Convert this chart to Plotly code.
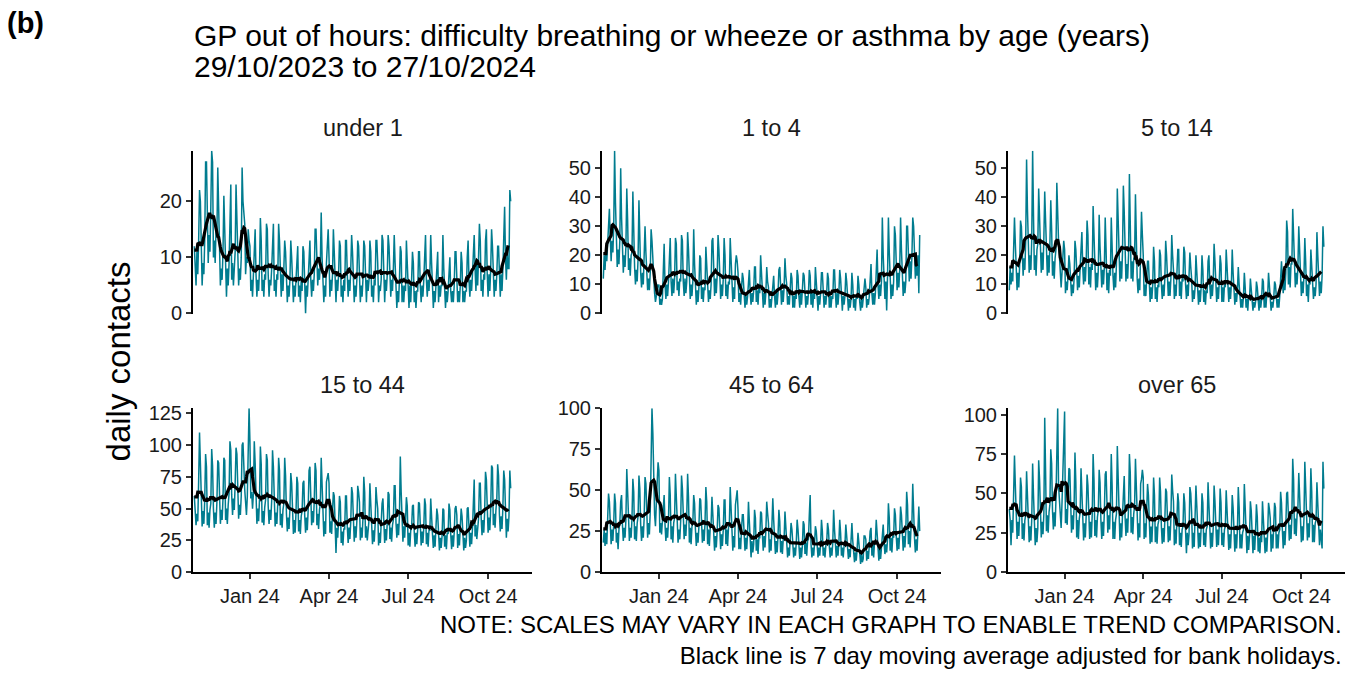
import numpy as np
import pandas as pd
import plotly.graph_objects as go

# ---------------- data ----------------
START_DATE = "2023-10-29"   # Sunday; one value per day to 27/10/2024
PANEL_TITLES = ["under 1", "1 to 4", "5 to 14", "15 to 44", "45 to 64", "over 65"]

# daily contacts, one row per week (Sun..Sat), last row = final Sunday
UNDER_1 = [
    12, 9, 5, 11, 7, 13, 22,
    20, 10, 5, 9, 7, 13, 27,
    27, 15, 9, 14, 11, 19, 29,
    27, 10, 13, 9, 15, 14, 26,
    18, 9, 5, 8, 6, 11, 21,
    15, 7, 3, 8, 5, 9, 18,
    23, 6, 9, 5, 10, 11, 23,
    17, 9, 5, 8, 6, 10, 26,
    20, 18, 16, 7, 10, 9, 15,
    13, 12, 4, 6, 3, 7, 12,
    15, 7, 3, 6, 4, 8, 17,
    13, 4, 6, 3, 7, 6, 16,
    15, 7, 3, 6, 5, 8, 15,
    16, 4, 6, 3, 7, 6, 16,
    13, 6, 3, 7, 4, 8, 13,
    11, 5, 2, 5, 3, 6, 13,
    10, 4, 2, 5, 3, 6, 11,
    12, 3, 5, 2, 6, 4, 12,
    11, 4, 0, 5, 3, 6, 12,
    13, 6, 3, 6, 4, 7, 15,
    15, 9, 5, 8, 6, 9, 18,
    10, 4, 2, 5, 3, 9, 12,
    15, 10, 3, 6, 4, 7, 15,
    11, 6, 2, 6, 4, 7, 13,
    12, 3, 5, 2, 6, 4, 13,
    13, 7, 3, 6, 4, 8, 14,
    11, 5, 2, 5, 3, 6, 13,
    12, 8, 2, 5, 3, 6, 13,
    12, 5, 2, 6, 4, 6, 13,
    11, 3, 5, 2, 6, 5, 13,
    13, 9, 2, 5, 4, 6, 14,
    13, 6, 2, 6, 4, 7, 14,
    12, 5, 3, 6, 4, 8, 14,
    9, 4, 1, 4, 2, 6, 12,
    11, 2, 5, 2, 5, 4, 13,
    9, 4, 1, 5, 2, 6, 11,
    9, 2, 4, 1, 4, 4, 11,
    11, 5, 2, 5, 3, 6, 13,
    14, 6, 3, 6, 4, 7, 14,
    9, 4, 1, 4, 2, 5, 10,
    11, 2, 5, 3, 5, 5, 14,
    8, 3, 1, 4, 2, 4, 9,
    10, 4, 2, 4, 2, 5, 11,
    11, 7, 2, 4, 2, 5, 11,
    9, 2, 4, 2, 4, 4, 10,
    13, 6, 3, 6, 4, 7, 13,
    14, 8, 4, 9, 5, 10, 16,
    13, 4, 6, 3, 7, 6, 13,
    15, 7, 3, 7, 4, 8, 15,
    12, 5, 3, 6, 4, 7, 12,
    12, 6, 3, 7, 4, 8, 12,
    19, 10, 6, 11, 8, 8, 22,
    20,
]

AGE_1_4 = [
    12, 20, 15, 22, 18, 25, 32,
    36, 26, 18, 25, 21, 30, 56,
    38, 24, 16, 22, 17, 25, 50,
    33, 21, 14, 20, 16, 23, 43,
    32, 15, 19, 13, 20, 21, 42,
    26, 16, 10, 15, 11, 19, 39,
    24, 14, 9, 14, 10, 17, 30,
    21, 12, 8, 12, 8, 14, 29,
    25, 17, 14, 7, 4, 6, 10,
    9, 10, 3, 5, 3, 5, 14,
    24, 10, 5, 10, 6, 11, 20,
    26, 11, 6, 12, 7, 12, 26,
    24, 8, 11, 6, 12, 11, 27,
    25, 11, 6, 12, 7, 11, 28,
    22, 10, 5, 10, 6, 11, 29,
    17, 8, 3, 8, 4, 9, 20,
    19, 5, 9, 4, 9, 8, 23,
    17, 9, 4, 8, 5, 10, 25,
    26, 12, 6, 12, 7, 13, 27,
    22, 10, 5, 10, 6, 12, 26,
    20, 6, 10, 5, 11, 10, 26,
    20, 9, 4, 9, 5, 17, 20,
    18, 14, 4, 7, 3, 7, 14,
    12, 5, 2, 6, 3, 6, 12,
    15, 7, 3, 7, 4, 8, 16,
    16, 4, 8, 3, 9, 7, 20,
    14, 7, 2, 7, 3, 7, 16,
    11, 9, 2, 5, 2, 6, 12,
    13, 6, 2, 7, 3, 7, 15,
    16, 8, 3, 8, 4, 9, 19,
    13, 10, 3, 6, 3, 7, 14,
    12, 2, 6, 2, 7, 5, 15,
    13, 6, 2, 7, 3, 8, 14,
    13, 6, 2, 6, 3, 7, 15,
    13, 3, 7, 2, 7, 5, 16,
    12, 6, 1, 6, 3, 7, 14,
    14, 6, 2, 6, 3, 7, 14,
    12, 2, 6, 2, 6, 5, 15,
    15, 7, 2, 7, 3, 7, 15,
    12, 6, 1, 6, 3, 6, 14,
    11, 4, 1, 5, 2, 5, 14,
    10, 2, 5, 1, 6, 5, 13,
    10, 4, 1, 5, 2, 5, 11,
    12, 9, 2, 5, 3, 6, 12,
    17, 7, 3, 7, 3, 7, 14,
    22, 10, 5, 10, 6, 11, 33,
    20, 11, 5, 11, 1, 13, 33,
    21, 10, 5, 10, 6, 11, 30,
    27, 14, 8, 14, 9, 15, 33,
    22, 11, 6, 11, 7, 11, 30,
    30, 17, 11, 18, 12, 19, 33,
    30, 18, 12, 17, 13, 20, 7,
    27,
]

AGE_5_14 = [
    8, 16, 10, 14, 11, 20, 33,
    24, 13, 8, 14, 9, 17, 32,
    30, 20, 13, 19, 15, 25, 53,
    36, 21, 14, 20, 15, 26, 56,
    34, 15, 20, 13, 22, 24, 43,
    34, 21, 14, 21, 15, 26, 42,
    32, 20, 13, 20, 14, 24, 39,
    29, 13, 18, 12, 19, 22, 45,
    33, 25, 20, 14, 9, 14, 20,
    25, 22, 7, 11, 8, 13, 20,
    17, 10, 6, 10, 7, 12, 25,
    22, 13, 8, 13, 9, 16, 24,
    28, 16, 10, 16, 11, 18, 32,
    27, 10, 16, 9, 17, 15, 37,
    24, 14, 8, 14, 9, 15, 34,
    23, 15, 9, 15, 10, 16, 33,
    22, 8, 14, 7, 15, 13, 33,
    21, 13, 8, 14, 9, 17, 43,
    29, 18, 11, 18, 12, 21, 44,
    35, 17, 11, 17, 12, 20, 48,
    31, 12, 18, 11, 19, 19, 41,
    25, 12, 7, 12, 8, 20, 35,
    27, 20, 6, 10, 6, 11, 18,
    18, 9, 4, 9, 5, 10, 23,
    18, 5, 9, 4, 10, 9, 22,
    20, 10, 5, 10, 6, 12, 25,
    20, 11, 6, 11, 6, 12, 27,
    20, 15, 5, 10, 6, 12, 22,
    22, 6, 11, 5, 12, 11, 23,
    21, 10, 5, 10, 6, 13, 21,
    16, 12, 4, 8, 5, 9, 20,
    15, 8, 3, 8, 4, 9, 20,
    15, 4, 8, 3, 8, 7, 18,
    20, 10, 5, 10, 6, 11, 24,
    18, 9, 4, 9, 5, 11, 20,
    17, 4, 9, 4, 10, 9, 22,
    16, 9, 4, 9, 5, 10, 22,
    14, 8, 3, 7, 4, 8, 16,
    10, 5, 2, 5, 2, 6, 14,
    9, 2, 5, 1, 6, 5, 12,
    8, 4, 1, 4, 2, 4, 11,
    9, 4, 1, 5, 2, 5, 12,
    11, 2, 6, 2, 7, 6, 14,
    9, 5, 1, 4, 2, 5, 11,
    10, 5, 2, 5, 2, 6, 12,
    18, 12, 7, 12, 8, 14, 32,
    28, 10, 16, 9, 17, 17, 36,
    25, 14, 9, 14, 10, 16, 30,
    22, 11, 6, 11, 7, 13, 26,
    18, 6, 10, 4, 11, 10, 22,
    17, 10, 5, 9, 6, 10, 28,
    20, 11, 6, 11, 7, 13, 30,
    23,
]

AGE_15_44 = [
    60, 50, 37, 46, 40, 72, 110,
    86, 50, 36, 48, 38, 57, 93,
    83, 37, 47, 35, 49, 54, 97,
    84, 50, 35, 47, 38, 55, 88,
    86, 52, 38, 49, 41, 58, 90,
    88, 41, 50, 38, 53, 62, 103,
    96, 61, 45, 58, 49, 70, 98,
    93, 56, 42, 53, 45, 60, 100,
    102, 70, 65, 55, 45, 60, 100,
    129, 103, 58, 63, 50, 62, 103,
    86, 52, 38, 50, 40, 57, 99,
    85, 39, 48, 37, 51, 57, 93,
    88, 52, 38, 49, 41, 56, 96,
    83, 50, 36, 47, 38, 54, 90,
    80, 37, 46, 35, 49, 54, 90,
    76, 46, 32, 43, 34, 50, 78,
    70, 43, 30, 41, 31, 47, 75,
    70, 32, 41, 30, 44, 48, 70,
    72, 45, 31, 43, 33, 49, 80,
    83, 51, 37, 48, 39, 56, 86,
    80, 37, 46, 34, 49, 54, 90,
    70, 42, 28, 40, 30, 71, 75,
    78, 70, 31, 40, 30, 48, 63,
    60, 36, 15, 35, 27, 41, 60,
    55, 23, 32, 21, 34, 34, 60,
    60, 36, 23, 35, 26, 40, 67,
    62, 37, 24, 36, 27, 40, 68,
    63, 55, 25, 35, 27, 42, 75,
    63, 27, 36, 25, 38, 41, 70,
    57, 34, 22, 33, 24, 37, 67,
    57, 50, 21, 31, 23, 40, 54,
    58, 35, 23, 34, 25, 39, 63,
    61, 26, 35, 24, 37, 41, 68,
    68, 39, 27, 38, 29, 44, 91,
    63, 37, 24, 36, 27, 41, 59,
    52, 21, 31, 20, 33, 35, 52,
    53, 32, 20, 31, 22, 34, 55,
    54, 33, 21, 32, 23, 35, 58,
    53, 22, 31, 20, 33, 33, 58,
    48, 30, 19, 29, 20, 31, 50,
    45, 28, 17, 27, 19, 28, 50,
    49, 20, 29, 18, 31, 30, 54,
    49, 30, 18, 29, 20, 31, 50,
    52, 45, 19, 30, 21, 38, 50,
    44, 28, 17, 27, 19, 25, 50,
    51, 32, 20, 31, 22, 34, 60,
    73, 28, 37, 26, 39, 42, 70,
    70, 43, 29, 41, 31, 47, 79,
    73, 45, 31, 43, 33, 50, 84,
    82, 37, 46, 35, 49, 57, 85,
    76, 46, 32, 44, 34, 51, 80,
    73, 44, 27, 42, 32, 44, 80,
    66,
]

AGE_45_64 = [
    18, 26, 16, 24, 17, 36, 48,
    43, 27, 17, 26, 19, 30, 48,
    42, 18, 24, 14, 26, 30, 43,
    47, 29, 19, 27, 21, 32, 63,
    49, 29, 19, 27, 21, 33, 57,
    49, 20, 28, 19, 30, 34, 59,
    51, 29, 19, 28, 21, 33, 58,
    54, 31, 21, 30, 23, 37, 62,
    100, 85, 45, 35, 28, 38, 55,
    67, 62, 24, 30, 23, 34, 44,
    47, 29, 19, 27, 21, 32, 58,
    47, 20, 28, 18, 30, 33, 60,
    46, 28, 18, 26, 20, 31, 59,
    51, 30, 20, 29, 22, 34, 60,
    46, 18, 27, 17, 28, 30, 47,
    42, 26, 16, 24, 18, 28, 45,
    44, 27, 18, 26, 19, 30, 52,
    43, 17, 26, 16, 27, 29, 46,
    37, 23, 13, 22, 15, 25, 41,
    39, 24, 14, 23, 16, 26, 44,
    44, 17, 26, 16, 27, 29, 52,
    37, 23, 13, 22, 15, 41, 45,
    50, 38, 14, 21, 14, 26, 35,
    35, 22, 13, 21, 14, 24, 43,
    31, 20, 9, 19, 12, 17, 38,
    33, 13, 20, 11, 21, 21, 37,
    36, 23, 13, 22, 15, 25, 43,
    36, 30, 12, 20, 13, 26, 45,
    32, 20, 11, 19, 12, 22, 38,
    31, 12, 19, 11, 20, 20, 37,
    26, 22, 9, 15, 10, 20, 30,
    26, 16, 9, 15, 10, 18, 32,
    26, 16, 8, 15, 9, 16, 31,
    29, 11, 18, 10, 19, 20, 35,
    47, 17, 9, 15, 10, 17, 28,
    25, 16, 9, 15, 10, 17, 32,
    25, 10, 15, 9, 16, 18, 30,
    26, 16, 9, 15, 10, 18, 38,
    26, 16, 9, 16, 10, 18, 32,
    24, 10, 15, 9, 16, 17, 29,
    24, 15, 8, 14, 9, 17, 30,
    19, 13, 6, 12, 7, 14, 24,
    18, 12, 5, 11, 6, 8, 22,
    22, 20, 7, 13, 8, 17, 25,
    27, 10, 17, 9, 18, 19, 32,
    21, 14, 7, 14, 8, 15, 26,
    29, 18, 11, 17, 12, 20, 42,
    33, 13, 21, 12, 22, 21, 39,
    35, 22, 13, 21, 14, 24, 40,
    35, 23, 13, 22, 15, 25, 49,
    41, 17, 25, 15, 27, 29, 54,
    33, 21, 12, 20, 13, 23, 40,
    25,
]

OVER_65 = [
    40, 33, 17, 33, 25, 61, 74,
    55, 33, 21, 32, 23, 38, 60,
    54, 21, 31, 20, 33, 36, 64,
    51, 30, 19, 29, 20, 34, 69,
    49, 29, 17, 28, 19, 28, 71,
    59, 33, 22, 32, 24, 37, 98,
    64, 26, 36, 25, 38, 43, 78,
    69, 39, 27, 38, 29, 46, 70,
    104, 55, 45, 37, 28, 44, 70,
    78, 102, 31, 40, 30, 46, 66,
    65, 37, 25, 36, 27, 42, 76,
    57, 22, 33, 21, 34, 38, 66,
    54, 32, 20, 31, 22, 36, 62,
    55, 32, 21, 32, 22, 37, 75,
    59, 23, 33, 22, 35, 39, 65,
    57, 33, 21, 32, 23, 38, 62,
    64, 37, 25, 36, 27, 43, 75,
    55, 21, 32, 21, 33, 37, 80,
    54, 32, 20, 31, 22, 36, 57,
    61, 35, 23, 34, 25, 41, 75,
    63, 25, 35, 24, 37, 42, 72,
    54, 32, 20, 31, 22, 56, 59,
    65, 60, 21, 31, 22, 41, 56,
    49, 29, 18, 29, 19, 33, 60,
    49, 19, 29, 18, 30, 33, 60,
    51, 29, 18, 28, 19, 33, 53,
    51, 30, 19, 29, 20, 34, 62,
    52, 45, 17, 27, 18, 35, 50,
    44, 17, 25, 16, 27, 29, 50,
    44, 26, 12, 25, 17, 24, 54,
    50, 38, 15, 25, 16, 33, 55,
    42, 26, 15, 25, 16, 28, 50,
    44, 17, 25, 16, 27, 29, 57,
    42, 26, 15, 25, 16, 28, 55,
    45, 27, 16, 27, 17, 30, 53,
    44, 17, 25, 16, 27, 29, 52,
    41, 25, 14, 24, 15, 27, 49,
    41, 25, 13, 24, 15, 27, 54,
    41, 15, 24, 15, 25, 27, 56,
    39, 24, 12, 23, 14, 23, 45,
    39, 24, 12, 23, 14, 26, 43,
    35, 13, 22, 12, 23, 19, 45,
    36, 23, 12, 22, 13, 25, 44,
    40, 34, 13, 24, 15, 30, 44,
    41, 15, 24, 15, 25, 27, 51,
    44, 27, 15, 26, 17, 29, 50,
    51, 31, 20, 30, 21, 35, 72,
    59, 24, 34, 23, 36, 41, 63,
    51, 30, 19, 29, 20, 34, 70,
    54, 32, 20, 31, 22, 37, 66,
    51, 19, 30, 19, 31, 33, 57,
    46, 28, 17, 27, 18, 15, 70,
    53,
]

SERIES = [UNDER_1, AGE_1_4, AGE_5_14, AGE_15_44, AGE_45_64, OVER_65]
Y_DTICK = [10, 10, 10, 25, 25, 25]
X_TICK_DATES = ["2024-01-01", "2024-04-01", "2024-07-01", "2024-10-01"]
X_TICK_LABELS = ["Jan 24", "Apr 24", "Jul 24", "Oct 24"]
X_RANGE = ["2023-10-27 12:00", "2024-11-20 12:00"]

TITLE_1 = "GP out of hours: difficulty breathing or wheeze or asthma by age (years)"
TITLE_2 = "29/10/2023 to 27/10/2024"
Y_TITLE = "daily contacts"
NOTE_1 = "NOTE: SCALES MAY VARY IN EACH GRAPH TO ENABLE TREND COMPARISON."
NOTE_2 = "Black line is 7 day moving average adjusted for bank holidays."

# ---------------- layout helpers ----------------
W, H = 1365, 675
FONT = "Liberation Sans, Arial, Helvetica, sans-serif"
TEAL = "#007C8F"
# target positions in screenshot pixels
COL_PX = [(193, 532), (602, 941), (1008, 1345)]
ROW_PX = [(150, 313), (408, 572)]
# vertical mapping observed between page pixels and the photographed picture
SY, OY = 0.969, 10.0


def fx(px):
    return px / W


def fy(py):
    return 1 - ((py - OY) / SY) / H


fig = go.Figure()
annotations = []

for i, vals in enumerate(SERIES):
    assert len(vals) == 365, (i, len(vals))
    dates = pd.date_range(START_DATE, periods=len(vals), freq="D")
    s = pd.Series(vals, index=dates, dtype=float)
    ma = s.rolling(7, center=True, min_periods=7).mean()
    ma = ma.bfill(limit=3)

    k = i + 1
    sfx = "" if k == 1 else str(k)
    row, col = divmod(i, 3)
    x0, x1 = COL_PX[col]
    ytop, ybot = ROW_PX[row]

    fig.add_trace(go.Scatter(x=dates, y=s.values, mode="lines",
                             line=dict(color=TEAL, width=1.5),
                             xaxis="x" + sfx, yaxis="y" + sfx, showlegend=False,
                             hoverinfo="skip"))
    fig.add_trace(go.Scatter(x=dates, y=ma.values, mode="lines",
                             line=dict(color="black", width=3.2),
                             xaxis="x" + sfx, yaxis="y" + sfx, showlegend=False,
                             hoverinfo="skip"))

    bottom = row == 1
    fig.layout["xaxis" + sfx] = dict(
        domain=[fx(x0), fx(x1)], anchor="y" + sfx, type="date",
        range=X_RANGE, showgrid=False, zeroline=False,
        showline=bottom, linecolor="black", linewidth=2,
        ticks="outside" if bottom else "", ticklen=5, tickwidth=2,
        tickcolor="#333333",
        tickvals=X_TICK_DATES if bottom else [],
        ticktext=X_TICK_LABELS if bottom else [],
        showticklabels=bottom,
        tickfont=dict(family=FONT, size=20, color="#1a1a1a"),
        fixedrange=True,
    )
    fig.layout["yaxis" + sfx] = dict(
        domain=[fy(ybot), fy(ytop)], anchor="x" + sfx,
        range=[0, max(vals)], showgrid=False, zeroline=False,
        showline=True, linecolor="black", linewidth=2,
        ticks="outside", ticklen=5, tickwidth=2, tickcolor="#333333",
        tick0=0, dtick=Y_DTICK[i],
        tickfont=dict(family=FONT, size=20, color="#1a1a1a"),
        fixedrange=True,
    )

    # panel title
    annotations.append(dict(
        text=PANEL_TITLES[i], x=fx((x0 + x1) / 2), y=fy(ytop - 23),
        xanchor="center", yanchor="middle",
        font=dict(family=FONT, size=23.5, color="#1a1a1a")))

annotations += [
    dict(text="<b>(b)</b>", x=fx(5), y=fy(22), xanchor="left", yanchor="middle",
         font=dict(family=FONT, size=29, color="black")),
    dict(text=TITLE_1, x=fx(192), y=fy(35), xanchor="left", yanchor="middle",
         font=dict(family=FONT, size=30, color="black")),
    dict(text=TITLE_2, x=fx(192), y=fy(66), xanchor="left", yanchor="middle",
         font=dict(family=FONT, size=30, color="black")),
    dict(text=Y_TITLE, x=fx(118), y=fy(361), xanchor="center", yanchor="middle",
         textangle=-90, font=dict(family=FONT, size=33, color="black")),
    dict(text=NOTE_1 + "<br>" + NOTE_2, x=fx(1344), y=fy(640),
         xanchor="right", yanchor="middle", align="right",
         font=dict(family=FONT, size=24, color="black")),
]
for a in annotations:
    a.setdefault("xref", "paper")
    a.setdefault("yref", "paper")
    a.setdefault("showarrow", False)

fig.update_layout(
    width=W, height=H, autosize=False,
    margin=dict(l=0, r=0, t=0, b=0, pad=0),
    paper_bgcolor="white", plot_bgcolor="white",
    font=dict(family=FONT, color="black"),
    annotations=annotations,
    showlegend=False,
)

fig.write_html("out.html",
               config={"displayModeBar": False, "staticPlot": True},
               post_script="document.body.style.margin='0px';")
